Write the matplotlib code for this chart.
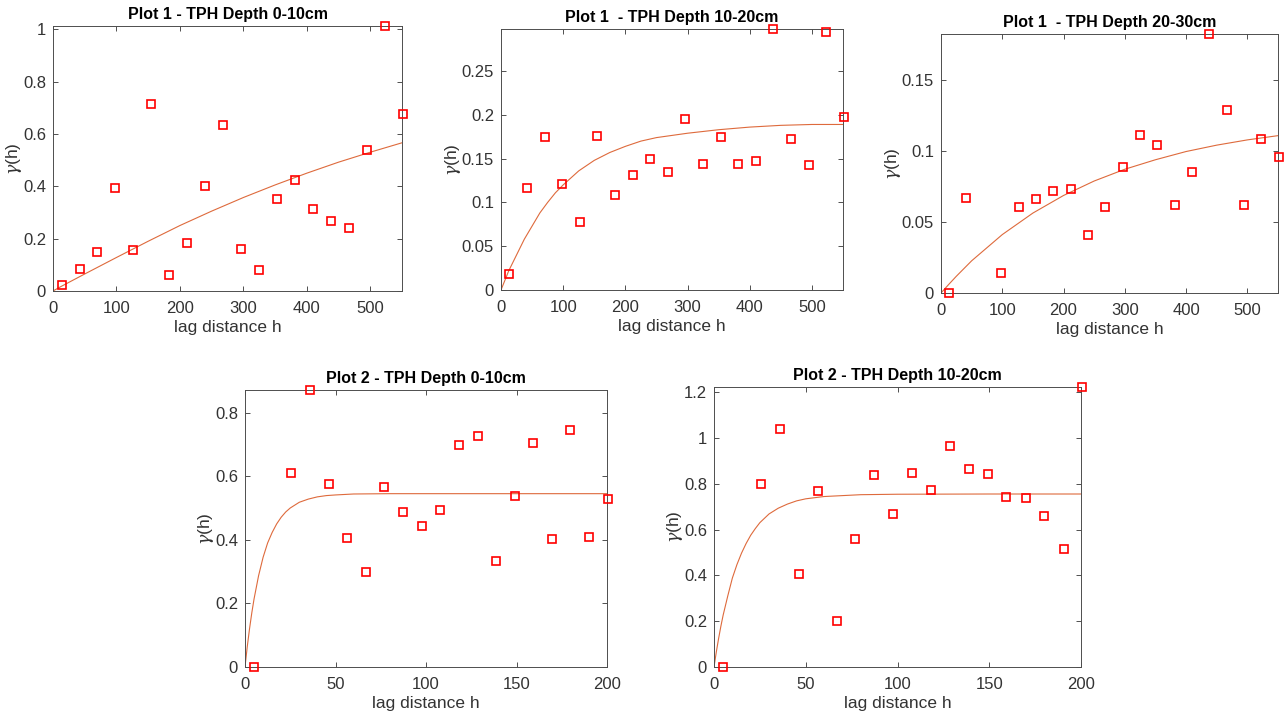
import numpy as np
import matplotlib
matplotlib.use('Agg')
import matplotlib.pyplot as plt
from matplotlib.ticker import FormatStrFormatter

plt.rcParams['font.family'] = ['Liberation Sans', 'DejaVu Sans']
plt.rcParams['mathtext.fontset'] = 'dejavuserif'

##########################################
# experimental variograms (lag, gamma) read off the figure
# Plot 1, 0-10cm
h_p1a = [13.4, 41.8, 70.1, 98.4, 126.7, 155.0, 183.3, 211.6, 239.9, 268.2,
         296.5, 324.8, 353.1, 381.4, 409.7, 438.0, 466.3, 494.6, 522.9, 551.2]
g_p1a = [0.023, 0.083, 0.148, 0.392, 0.158, 0.716, 0.062, 0.182, 0.400, 0.635,
         0.160, 0.079, 0.351, 0.424, 0.312, 0.267, 0.239, 0.539, 1.012, 0.677]
# Plot 1, 10-20cm
h_p1b = h_p1a
g_p1b = [0.0183, 0.117, 0.175, 0.121, 0.078, 0.176, 0.109, 0.131, 0.150, 0.135,
         0.195, 0.1435, 0.175, 0.1435, 0.1476, 0.298, 0.172, 0.1427, 0.2945, 0.197]
# Plot 1, 20-30cm (no pair at the third lag)
h_p1c = [12.5, 41.0, 98.4, 126.7, 155.0, 183.3, 211.6, 239.9, 268.2,
         296.5, 324.8, 353.1, 381.4, 409.7, 438.0, 466.3, 494.6, 522.9, 551.2]
g_p1c = [0.0002, 0.067, 0.0139, 0.0609, 0.0663, 0.072, 0.0736, 0.0411, 0.0604,
         0.0891, 0.1115, 0.1044, 0.0618, 0.0856, 0.1827, 0.1293, 0.0618, 0.1089, 0.0957]
# Plot 2, 0-10cm
h_p2a = [5.1, 25.5, 35.9, 46.2, 56.5, 66.9, 77.0, 87.3, 97.6, 107.9,
         118.2, 128.5, 138.6, 148.9, 159.2, 169.5, 179.8, 190.1, 200.4]
g_p2a = [0.0, 0.609, 0.870, 0.576, 0.406, 0.2995, 0.565, 0.486, 0.442, 0.494,
         0.698, 0.726, 0.333, 0.537, 0.705, 0.404, 0.745, 0.408, 0.528]
# Plot 2, 10-20cm
h_p2b = [4.9, 25.5, 35.9, 46.3, 56.6, 66.8, 77.0, 87.4, 97.6, 108.0,
         118.4, 128.6, 138.8, 149.2, 159.4, 169.8, 180.1, 190.5, 200.7]
g_p2b = [0.0, 0.799, 1.040, 0.404, 0.768, 0.2007, 0.5585, 0.836, 0.668, 0.845,
         0.774, 0.966, 0.8625, 0.842, 0.742, 0.736, 0.659, 0.515, 1.222]

# fitted model curves, sampled off the figure
mh_p1 = [0, 12.5, 25, 50, 100, 150, 200, 250, 300, 350, 400, 450, 500, 550]
mg_p1a = [0, 0.017, 0.033, 0.065, 0.128, 0.19, 0.25, 0.305, 0.357, 0.405, 0.45, 0.492, 0.53, 0.566]
mg_p1c = [0, 0.006, 0.0118, 0.0227, 0.0412, 0.0564, 0.0688, 0.079, 0.0873, 0.094, 0.0998,
          0.1043, 0.108, 0.111]
mh_p1b = [0, 12.5, 25, 37.5, 50, 62.5, 75, 87.5, 100, 112.5, 125, 150, 175, 200, 225,
          250, 300, 350, 400, 450, 500, 550]
mg_p1b = [0, 0.022, 0.040, 0.058, 0.073, 0.088, 0.100, 0.111, 0.120, 0.128, 0.136,
          0.148, 0.157, 0.164, 0.170, 0.174, 0.179, 0.183, 0.186, 0.188, 0.189, 0.189]
mh_p2 = [0, 1.25, 2.5, 3.75, 5, 7.5, 10, 12.5, 15, 17.5, 20, 22.5, 25, 30, 35, 40, 45,
         50, 60, 80, 100, 150, 200]
mg_p2a = [0, 0.064, 0.12, 0.170, 0.214, 0.287, 0.345, 0.390, 0.423, 0.450, 0.471,
          0.4875, 0.500, 0.518, 0.528, 0.535, 0.539, 0.541, 0.544, 0.545, 0.545, 0.545, 0.545]
mg_p2b = [0, 0.065, 0.124, 0.178, 0.227, 0.310, 0.388, 0.447, 0.497, 0.539, 0.575,
          0.604, 0.630, 0.668, 0.693, 0.711, 0.725, 0.734, 0.744, 0.752, 0.754, 0.755, 0.755]

titles = ['Plot 1 - TPH Depth 0-10cm', 'Plot 1  - TPH Depth 10-20cm',
          'Plot 1  - TPH Depth 20-30cm', 'Plot 2 - TPH Depth 0-10cm',
          'Plot 2 - TPH Depth 10-20cm']
##########################################

W, H = 1288, 718
fig = plt.figure(figsize=(W / 100, H / 100), dpi=100)

def box(l, r, t, b):
    return [l / W, 1 - b / H, (r - l) / W, (b - t) / H]

panels = [
    (box(53, 402, 26, 291), h_p1a, g_p1a, mh_p1, mg_p1a, 550, 1.012, np.arange(0, 1.01, 0.2)),
    (box(501, 843, 29, 290), h_p1b, g_p1b, mh_p1b, mg_p1b, 550, 0.298, np.arange(0, 0.26, 0.05)),
    (box(941, 1278, 34, 293), h_p1c, g_p1c, mh_p1, mg_p1c, 550, 0.1827, np.arange(0, 0.16, 0.05)),
    (box(245, 607, 390, 667), h_p2a, g_p2a, mh_p2, mg_p2a, 200, 0.871, np.arange(0, 0.81, 0.2)),
    (box(714, 1081, 387, 667), h_p2b, g_p2b, mh_p2, mg_p2b, 200, 1.222, np.arange(0, 1.21, 0.2)),
]

txt = '#333333'
for i, (rect, h, g, mh, mg, xmax, ymax, yt) in enumerate(panels):
    ax = fig.add_axes(rect)
    ax.plot(mh, mg, '-', color='#DE6A3C', linewidth=0.8)
    ax.plot(h, g, 's', markersize=6.3, markerfacecolor='none', markeredgecolor='#FF0000',
            markeredgewidth=1.2, clip_on=False, zorder=3)
    ax.set_xlim([0, xmax])
    ax.set_ylim([0, ymax])
    if xmax == 550:
        ax.set_xticks(np.arange(0, 501, 100))
    else:
        ax.set_xticks(np.arange(0, 201, 50))
    ax.set_yticks(yt)
    ax.yaxis.set_major_formatter(FormatStrFormatter('%g'))
    ax.tick_params(direction='in', length=3.5, width=0.6, top=True, right=True,
                   labelsize=12, colors=txt, pad=5)
    ax.tick_params(axis='x', pad=7)
    for s in ax.spines.values():
        s.set_color('#4d4d4d')
        s.set_linewidth(0.7)
    ax.set_xlabel('lag distance h', fontsize=12.5, color=txt, labelpad=3)
    ax.set_ylabel(r'$\gamma$(h)', fontsize=12.5, color=txt, labelpad=-1)
    ax.set_title(titles[i], fontsize=11.5, fontweight='bold', pad=5)

fig.savefig('out.png', dpi=100)
